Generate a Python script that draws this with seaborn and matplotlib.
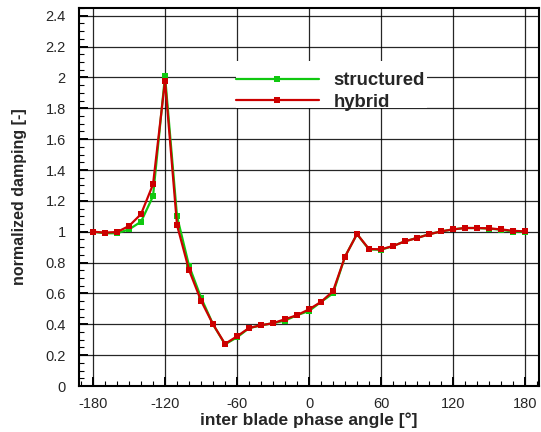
import numpy as np
import pandas as pd
import matplotlib
matplotlib.use("Agg")
import matplotlib.pyplot as plt
import seaborn as sns
from matplotlib.ticker import MultipleLocator
from matplotlib.patches import Rectangle

angles = list(range(-180, 181, 10))
structured = [1.00, 0.99, 0.99, 1.015, 1.065, 1.23, 2.01, 1.10, 0.78, 0.573,
              0.40, 0.27, 0.315, 0.375, 0.393, 0.407, 0.424, 0.459, 0.486, 0.545,
              0.60, 0.838, 0.985, 0.885, 0.883, 0.907, 0.938, 0.96, 0.983, 1.002,
              1.015, 1.024, 1.024, 1.02, 1.013, 1.0, 1.0]
hybrid = [1.00, 0.994, 0.998, 1.037, 1.114, 1.307, 1.978, 1.043, 0.752, 0.553,
          0.40, 0.273, 0.322, 0.376, 0.394, 0.407, 0.433, 0.459, 0.497, 0.545,
          0.614, 0.838, 0.985, 0.888, 0.886, 0.907, 0.938, 0.959, 0.983, 1.002,
          1.015, 1.024, 1.024, 1.022, 1.015, 1.006, 1.002]
series_names = ["structured", "hybrid"]
xticks = [-180, -120, -60, 0, 60, 120, 180]
yticks = [0, 0.2, 0.4, 0.6, 0.8, 1, 1.2, 1.4, 1.6, 1.8, 2, 2.2, 2.4]
ytick_labels = ["0", "0.2", "0.4", "0.6", "0.8", "1", "1.2", "1.4", "1.6", "1.8", "2", "2.2", "2.4"]

df = pd.concat([
    pd.DataFrame({"angle": angles, "damping": structured, "scheme": series_names[0]}),
    pd.DataFrame({"angle": angles, "damping": hybrid, "scheme": series_names[1]}),
])

sns.set_style("white")
plt.rcParams["font.family"] = ["Liberation Sans", "DejaVu Sans"]

fig = plt.figure(figsize=(5.41, 4.32), dpi=100)
ax = fig.add_axes([79/541, 1-386/432, 460/541, 378/432])

palette = {"structured": "#10c810", "hybrid": "#cc0000"}
sns.lineplot(data=df, x="angle", y="damping", hue="scheme", palette=palette,
             marker="s", markersize=4.3, markeredgewidth=0, linewidth=1.6,
             ax=ax, legend=True, sort=False, zorder=3)

ax.set_xlim(-191.7, 191.7)
ax.set_ylim(0, 2.45)
ax.set_xticks(xticks)
ax.set_xticklabels([str(t) for t in xticks])
ax.set_yticks(yticks)
ax.set_yticklabels(ytick_labels)
ax.xaxis.set_minor_locator(MultipleLocator(10))
ax.yaxis.set_minor_locator(MultipleLocator(0.05))
ax.tick_params(which="both", direction="in", top=False, right=False,
               left=True, bottom=True, labelsize=10.5, color="black")
ax.tick_params(which="major", length=6.5, width=1.4)
ax.tick_params(which="minor", length=3.8, width=0.8)
ax.tick_params(axis="x", which="major", pad=8)
ax.tick_params(axis="y", which="major", pad=9.5)
ax.grid(True, which="major", color="black", linewidth=0.9, alpha=0.85)
ax.set_axisbelow(True)
for s in ax.spines.values():
    s.set_color("black")
    s.set_linewidth(1.5)

ax.set_xlabel("inter blade phase angle [°]", fontsize=12.5, fontweight="bold")
ax.set_ylabel("normalized damping [-]", fontsize=11.5, fontweight="bold")
ax.xaxis.set_label_coords(0.5, -0.071)
ax.yaxis.set_label_coords(-0.113, 0.5)

# white legend background box hiding the grid
ax.add_patch(Rectangle((0.3407, 0.7347), 0.4153, 0.1259, transform=ax.transAxes,
                       facecolor="white", edgecolor="none", zorder=1))

leg = ax.legend(loc="upper left", bbox_to_anchor=(0.3407, 0.8307), frameon=False,
                prop={"weight": "bold", "size": 13.3}, handlelength=4.5,
                handletextpad=0.8, labelspacing=0.26, borderpad=0, numpoints=1,
                borderaxespad=0)
leg.set_title(None)

fig.savefig("out.png", dpi=100)
